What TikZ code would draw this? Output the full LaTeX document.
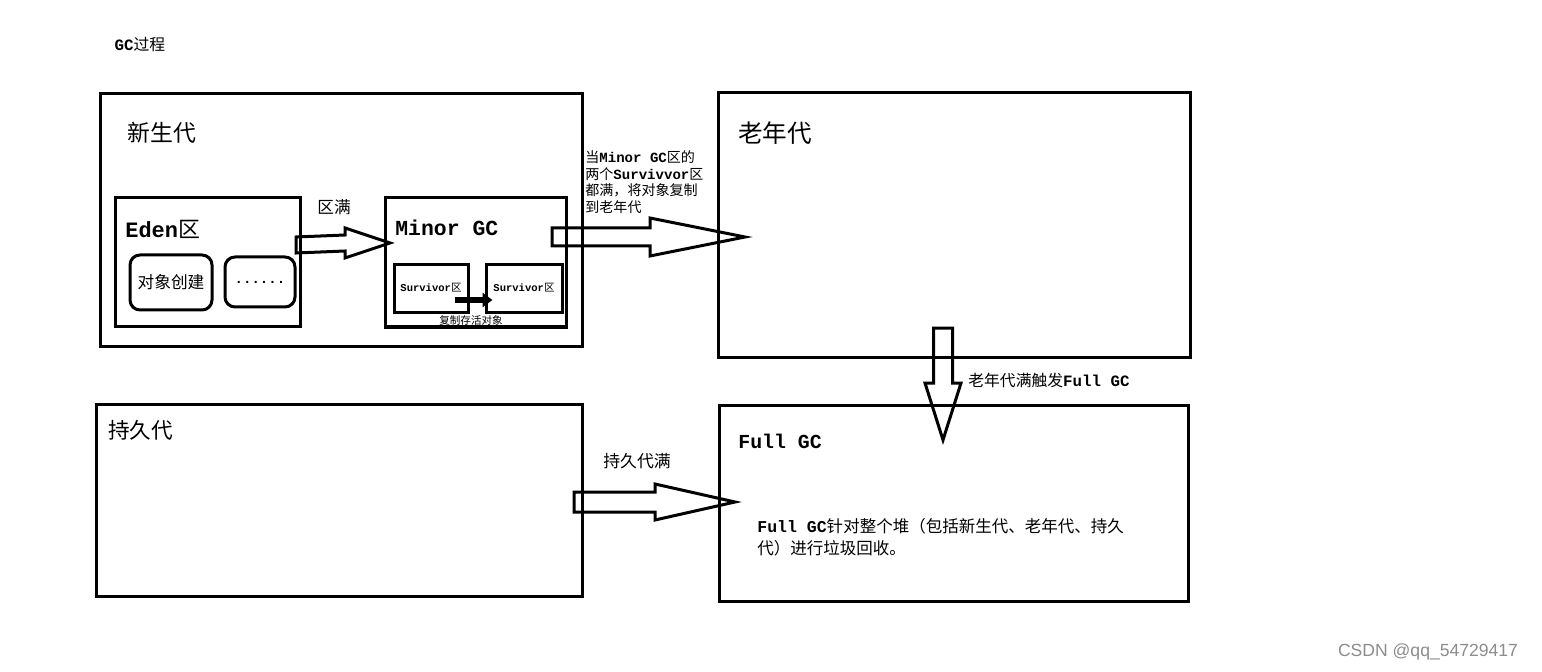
\documentclass[tikz,border=0pt]{standalone}
\usepackage{fontspec}
\setmainfont{Noto Sans CJK SC}
\setmonofont{Liberation Mono}
\usetikzlibrary{calc,arrows.meta}
\newdimen\px \px=0.02cm
\newcommand\m[1]{{\ttfamily\bfseries #1}}
\newcommand\fs[1]{\fontsize{#1}{#1}\selectfont}
\tikzset{
	box/.style={draw,line width=3\px,inner sep=0pt},
	rbox/.style={box,rounded corners=10\px},
	lbl/.style={inner sep=0pt,font=\fs{#1}},
	blk/.style={draw,line width=3\px,line join=miter}
}
% tail, tip, head length, shaft half, head half
\newcommand\harrow[5]{%
	\draw[blk] ($(#1)+(0,#4)$) -- ($(#2)+(-#3,#4)$) -- ($(#2)+(-#3,#5)$) -- (#2)
		-- ($(#2)+(-#3,-#5)$) -- ($(#2)+(-#3,-#4)$) -- ($(#1)+(0,-#4)$) -- cycle;}
\newcommand\varrow[5]{%
	\draw[blk] ($(#1)+(#4,0)$) -- ($(#2)+(#4,-#3)$) -- ($(#2)+(#5,-#3)$) -- (#2)
		-- ($(#2)+(-#5,-#3)$) -- ($(#2)+(-#4,-#3)$) -- ($(#1)+(-#4,0)$) -- cycle;}

\begin{document}
\begin{tikzpicture}[x=1\px,y=-1\px]
	\useasboundingbox (0,0) rectangle (1542,672);

	\node [lbl=9] (title) at (140,45) {\m{GC}过程};

	% young generation
	\node [box,minimum width=482\px,minimum height=252\px] (young) at (341,220) {};
	\node [lbl=13,anchor=west] (younglbl) at (127,133) {新生代};
	\node [box,minimum width=185\px,minimum height=128\px] (eden) at (207.5,262) {};
	\node [lbl=12.5,anchor=west] (edenlbl) at (125,229) {\m{Eden}区};
	\node [rbox,minimum width=82\px,minimum height=55\px,font=\fs{9.5}] (create) at (171,282.5) {对象创建};
	\node [rbox,minimum width=70\px,minimum height=50\px,font=\fs{8}] (more) at (260,282) {\m{......}};
	\node [box,minimum width=181\px,minimum height=129\px] (minor) at (475.5,262.5) {};
	\node [lbl=12.2,anchor=west] (minorlbl) at (395,228) {\m{Minor GC}};
	\node [box,minimum width=74\px,minimum height=48\px,font=\fs{6}] (surva) at (431,289) {\raisebox{4\px}{\m{Survivor}区}};
	\node [box,minimum width=76\px,minimum height=48\px,font=\fs{6}] (survb) at (524,289) {\raisebox{4\px}{\m{Survivor}区}};
	\node [lbl=6] (copylbl) at (471,320) {复制存活对象};
	\node [lbl=9.5] (fulllbl) at (334,207) {区满};

	% old generation
	\node [box,minimum width=472\px,minimum height=264\px] (old) at (954,225) {};
	\node [lbl=14,anchor=west] (oldlbl) at (738,133) {老年代};
	\node [lbl=8,anchor=north west,align=left,font=\fontsize{8}{9.6}\selectfont] (promlbl) at (585,150)
		{当\m{Minor GC}区的\\两个\m{Survivvor}区\\都满，将对象复制\\到老年代};
	\node [lbl=9,anchor=west] (triglbl) at (968,380) {老年代满触发\m{Full GC}};

	% permanent generation
	\node [box,minimum width=486\px,minimum height=192\px] (perm) at (339,500) {};
	\node [lbl=12.3,anchor=west] (permlbl) at (108,430) {持久代};
	\node [lbl=9.6] (permfull) at (637,461) {持久代满};

	% full gc
	\node [box,minimum width=469\px,minimum height=196\px] (full) at (953.5,503) {};
	\node [lbl=11.3,anchor=west] (fullgc) at (738,441) {\m{Full GC}};
	\node [lbl=9.4,anchor=north west,align=left,font=\fontsize{9.4}{12.5}\selectfont] (fulltxt) at (757,518)
		{\m{Full GC}针对整个堆（包括新生代、老年代、持久\\代）进行垃圾回收。};

	% arrows
	\coordinate (a1) at (296,245);
	\coordinate (b1) at (390,243);
	\coordinate (a2) at (552,237);
	\coordinate (b2) at (745,237);
	\coordinate (a3) at (943,328);
	\coordinate (b3) at (943,440);
	\coordinate (a4) at (574,502);
	\coordinate (b4) at (735,502);
	\harrow{a1}{b1}{45}{8}{15}
	\harrow{a2}{b2}{95}{9}{19}
	\varrow{a3}{b3}{57}{9.5}{18}
	\harrow{a4}{b4}{80}{10}{18}
	\draw [line width=0.12cm,-{Triangle[length=0.2cm,width=0.28cm]}] ([xshift=-0.3cm,yshift=-0.22cm]surva.east) -- ([xshift=0.16cm,yshift=-0.22cm]survb.west);

	\node [lbl=10,text=black!45,font=\fontspec{Liberation Sans}\fs{10}] (mark) at (1428,652) {CSDN @qq\_54729417};
\end{tikzpicture}
\end{document}
